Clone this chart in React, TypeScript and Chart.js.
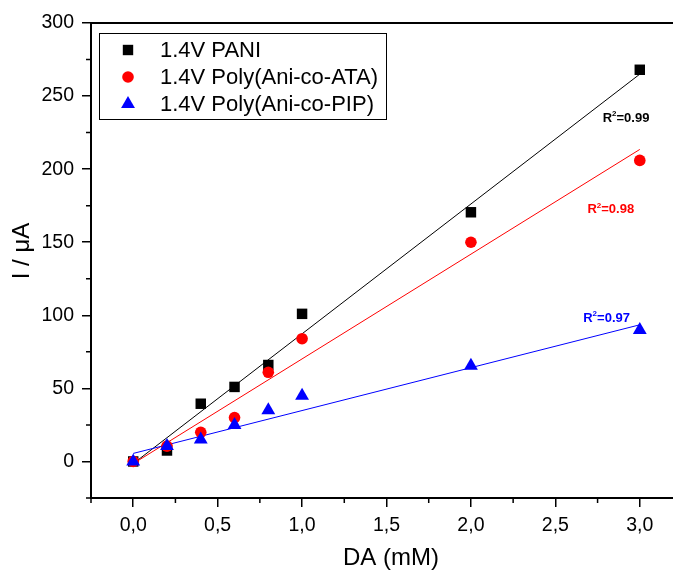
import React, { useEffect, useRef } from "react";
import { Chart, registerables } from "chart.js";

Chart.register(...registerables);

// ---- data ----
const concentrations = [0, 0.2, 0.4, 0.6, 0.8, 1.0, 2.0, 3.0];
const paniValues = [0, 7.5, 39.5, 51, 66, 101, 170.5, 268];
const ataValues = [0, 10.5, 20, 30, 61, 84, 150, 206];
const pipValues = [0, 10.5, 15, 25, 35, 45, 65.5, 90];

const fitX = [0, 3.0];
const paniFit = [-1.5, 265];
const ataFit = [-1.5, 213.5];
const pipFit = [5.5, 93.5];

const seriesLabels = ["1.4V PANI", "1.4V Poly(Ani-co-ATA)", "1.4V Poly(Ani-co-PIP)"];
const seriesColors = ["#000000", "#ff0000", "#0000ff"];
const r2Values = ["0.99", "0.98", "0.97"];
const r2X = [2.78, 2.69, 2.665];
const r2Y = [235, 172.5, 98];

const xMajorTicks = [0, 0.5, 1.0, 1.5, 2.0, 2.5, 3.0];
const xMinorTicks = [-0.25, 0.25, 0.75, 1.25, 1.75, 2.25, 2.75, 3.25];
const yMajorTicks = [0, 50, 100, 150, 200, 250, 300];
const yMinorTicks = [-25, 25, 75, 125, 175, 225, 275];

const xTitle = "DA (mM)";
const yTitle = "I / μA";

const FONT = "Arial, 'Liberation Sans', sans-serif";

function drawMarker(ctx: CanvasRenderingContext2D, kind: number, x: number, y: number) {
  ctx.fillStyle = seriesColors[kind];
  ctx.beginPath();
  if (kind === 0) {
    ctx.rect(x - 5.2, y - 5.2, 10.4, 10.4);
  } else if (kind === 1) {
    ctx.arc(x, y, 5.8, 0, Math.PI * 2);
  } else {
    const r = 8;
    ctx.moveTo(x, y - r);
    ctx.lineTo(x + r * 0.866, y + r * 0.5);
    ctx.lineTo(x - r * 0.866, y + r * 0.5);
    ctx.closePath();
  }
  ctx.fill();
}

export default function App() {
  const ref = useRef<HTMLCanvasElement>(null);

  useEffect(() => {
    const canvas = ref.current;
    if (!canvas) return;

    const overlay = {
      id: "overlay",
      afterDraw(chart: any) {
        const ctx: CanvasRenderingContext2D = chart.ctx;
        const { left, right, top, bottom } = chart.chartArea;
        const xs = chart.scales.x;
        const ys = chart.scales.y;
        ctx.save();
        // top frame line
        ctx.strokeStyle = "#000";
        ctx.lineWidth = 2;
        ctx.beginPath();
        ctx.moveTo(left - 1, top);
        ctx.lineTo(right, top);
        ctx.stroke();
        // minor ticks
        ctx.lineWidth = 1.5;
        ctx.beginPath();
        xMinorTicks.forEach((v) => {
          const px = xs.getPixelForValue(v);
          ctx.moveTo(px, bottom);
          ctx.lineTo(px, bottom + 5);
        });
        yMinorTicks.forEach((v) => {
          const py = ys.getPixelForValue(v);
          ctx.moveTo(left, py);
          ctx.lineTo(left - 5, py);
        });
        ctx.stroke();

        // axis titles
        ctx.fillStyle = "#000";
        ctx.font = `24px ${FONT}`;
        ctx.textAlign = "center";
        ctx.textBaseline = "middle";
        ctx.fillText(xTitle, 391, 558);
        ctx.save();
        ctx.translate(22, 251);
        ctx.rotate(-Math.PI / 2);
        ctx.fillText(yTitle, 0, 0);
        ctx.restore();

        // legend
        ctx.lineWidth = 1;
        ctx.strokeStyle = "#000";
        ctx.strokeRect(99.5, 33.5, 287, 86);
        ctx.font = `22px ${FONT}`;
        ctx.textAlign = "left";
        ctx.textBaseline = "middle";
        seriesLabels.forEach((lab, i) => {
          const yy = 50 + i * 27;
          drawMarker(ctx, i, 128, yy);
          ctx.fillStyle = "#000";
          ctx.fillText(lab, 160, yy + 1);
        });

        // R^2 labels
        r2Values.forEach((val, i) => {
          const px = xs.getPixelForValue(r2X[i]);
          const py = ys.getPixelForValue(r2Y[i]);
          ctx.fillStyle = seriesColors[i];
          ctx.textAlign = "left";
          ctx.textBaseline = "middle";
          ctx.font = `bold 13px ${FONT}`;
          ctx.fillText("R", px, py);
          const wR = ctx.measureText("R").width;
          ctx.font = `bold 8px ${FONT}`;
          ctx.fillText("2", px + wR, py - 4);
          const w2 = ctx.measureText("2").width;
          ctx.font = `bold 13px ${FONT}`;
          ctx.fillText("=" + val, px + wR + w2, py);
        });
        ctx.restore();
      },
    };

    const pts = (ys: number[], xsArr: number[]) => xsArr.map((x, i) => ({ x, y: ys[i] }));

    const chart = new Chart(canvas, {
      type: "scatter",
      data: {
        datasets: [
          {
            label: seriesLabels[0],
            data: pts(paniValues, concentrations),
            pointStyle: "rect",
            pointRadius: 7.4,
            pointHoverRadius: 7.4,
            backgroundColor: seriesColors[0],
            borderColor: seriesColors[0],
            borderWidth: 0,
            order: 3,
          },
          {
            label: seriesLabels[1],
            data: pts(ataValues, concentrations),
            pointStyle: "circle",
            pointRadius: 5.8,
            pointHoverRadius: 5.8,
            backgroundColor: seriesColors[1],
            borderColor: seriesColors[1],
            borderWidth: 0,
            order: 2,
          },
          {
            label: seriesLabels[2],
            data: pts(pipValues, concentrations),
            pointStyle: "triangle",
            pointRadius: 8,
            pointHoverRadius: 8,
            backgroundColor: seriesColors[2],
            borderColor: seriesColors[2],
            borderWidth: 0,
            order: 1,
          },
          {
            label: "fit PANI",
            data: pts(paniFit, fitX),
            showLine: true,
            pointRadius: 0,
            borderColor: seriesColors[0],
            borderWidth: 1,
            order: 6,
          },
          {
            label: "fit ATA",
            data: pts(ataFit, fitX),
            showLine: true,
            pointRadius: 0,
            borderColor: seriesColors[1],
            borderWidth: 1,
            order: 5,
          },
          {
            label: "fit PIP",
            data: pts(pipFit, fitX),
            showLine: true,
            pointRadius: 0,
            borderColor: seriesColors[2],
            borderWidth: 1,
            order: 4,
          },
        ],
      },
      options: {
        responsive: false,
        animation: false,
        devicePixelRatio: 1,
        layout: { padding: { top: 23, right: 7, left: 0, bottom: 0 } },
        plugins: {
          legend: { display: false },
          tooltip: { enabled: false },
        },
        scales: {
          x: {
            type: "linear",
            min: -0.25,
            max: 3.25,
            afterBuildTicks: (s: any) => {
              s.ticks = xMajorTicks.map((v) => ({ value: v }));
            },
            afterFit: (s: any) => {
              s.height = 75;
            },
            ticks: {
              autoSkip: false,
              maxRotation: 0,
              padding: 7,
              color: "#000",
              font: { family: FONT, size: 19.5 },
              callback: (v: any) => Number(v).toFixed(1).replace(".", ","),
            },
            grid: {
              display: true,
              drawOnChartArea: false,
              drawTicks: true,
              tickLength: 9,
              color: "#000",
              lineWidth: 1.5,
            },
            border: { display: true, color: "#000", width: 2 },
          },
          y: {
            type: "linear",
            min: -25,
            max: 300,
            afterBuildTicks: (s: any) => {
              s.ticks = yMajorTicks.map((v) => ({ value: v }));
            },
            afterFit: (s: any) => {
              s.width = 91;
            },
            ticks: {
              autoSkip: false,
              padding: 8,
              color: "#000",
              font: { family: FONT, size: 19.5 },
              callback: (v: any) => String(v),
            },
            grid: {
              display: true,
              drawOnChartArea: false,
              drawTicks: true,
              tickLength: 9,
              color: "#000",
              lineWidth: 1.5,
            },
            border: { display: true, color: "#000", width: 2 },
          },
        },
      },
      plugins: [overlay],
    });

    return () => chart.destroy();
  }, []);

  return (
    <div
      style={{
        position: "absolute",
        left: 0,
        top: 0,
        width: 673,
        height: 573,
        overflow: "hidden",
        background: "#fff",
      }}
    >
      <canvas ref={ref} width={690} height={573} style={{ display: "block" }} />
    </div>
  );
}
